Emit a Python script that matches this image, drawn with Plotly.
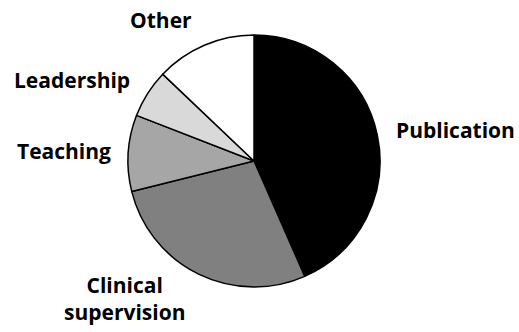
import plotly.graph_objects as go

# Share of activity by category, clockwise from 12 o'clock
categories = ["Publication", "Clinical supervision", "Teaching", "Leadership", "Other"]
shares = [43.4, 27.7, 9.8, 6.2, 12.9]
fills = ["#000000", "#808080", "#a6a6a6", "#d9d9d9", "#ffffff"]

# Category label text and where each label sits (paper coordinates)
label_text = ["Publication", "Clinical<br>supervision", "Teaching", "Leadership", "Other"]
label_x = [0.8786, 0.2408, 0.1224, 0.1387, 0.3102]
label_y = [0.6084, 0.0994, 0.5452, 0.7590, 0.9410]

fig = go.Figure(
    go.Pie(
        labels=categories,
        values=shares,
        sort=False,
        direction="clockwise",
        rotation=0,
        marker=dict(colors=fills, line=dict(color="#000000", width=1.5)),
        textinfo="none",
        showlegend=False,
        hoverinfo="label+percent",
        domain=dict(x=[0.2466, 0.7322], y=[0.1355, 0.8946]),
    )
)

for txt, lx, ly in zip(label_text, label_x, label_y):
    fig.add_annotation(
        text=f"<b>{txt}</b>",
        x=lx,
        y=ly,
        xref="paper",
        yref="paper",
        xanchor="center",
        yanchor="middle",
        showarrow=False,
        align="center",
        font=dict(family="Open Sans", size=21, color="#000000"),
    )

fig.update_layout(
    width=519,
    height=332,
    margin=dict(l=0, r=0, t=0, b=0),
    paper_bgcolor="#ffffff",
    plot_bgcolor="#ffffff",
)

fig.write_html("out.html")
